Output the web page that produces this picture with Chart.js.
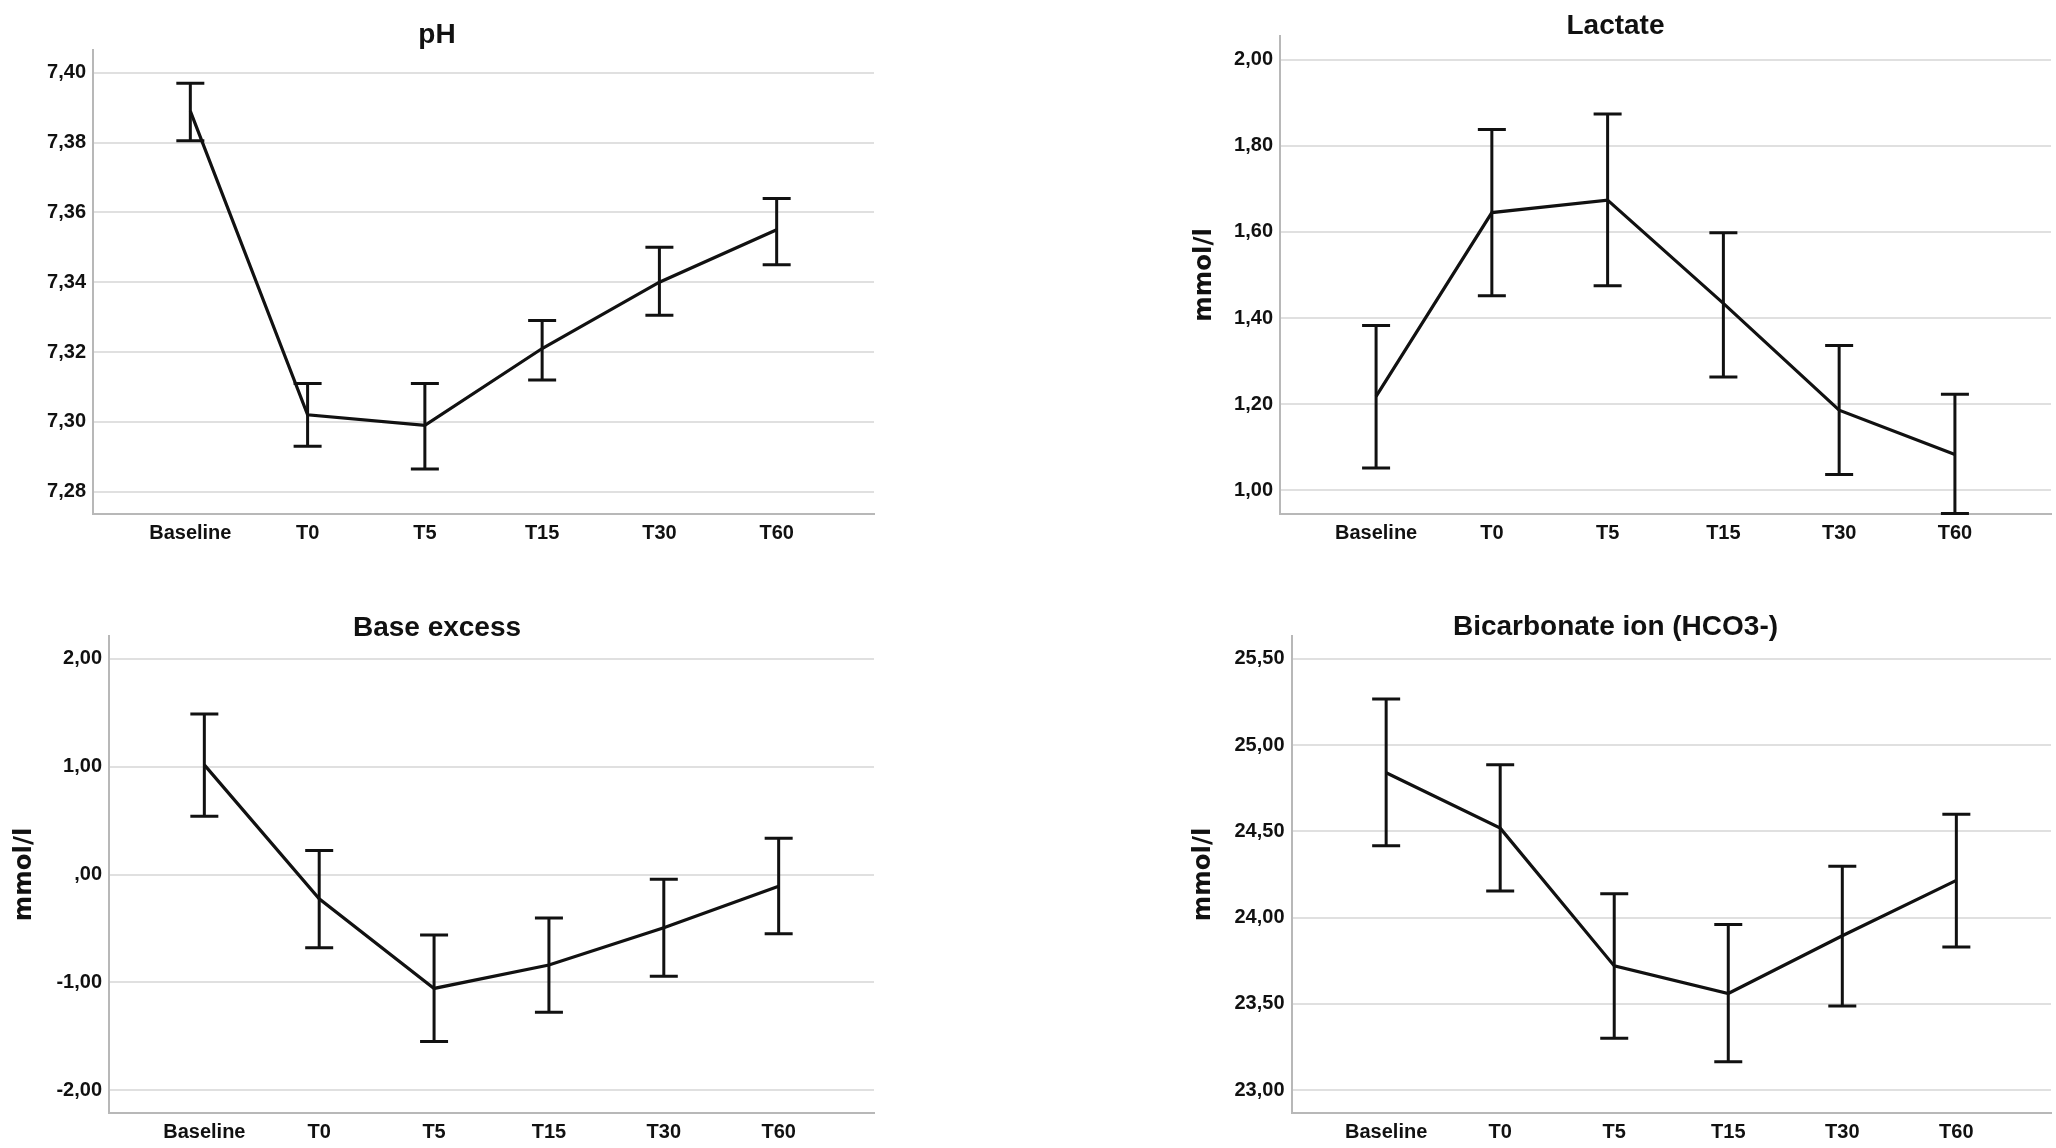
<!DOCTYPE html>
<html>
<head>
<meta charset="utf-8">
<script src="https://cdn.jsdelivr.net/npm/chart.js@4.4.1/dist/chart.umd.min.js"></script>
<style>
html,body{margin:0;padding:0;background:#ffffff;overflow:hidden;width:2056px;height:1148px;}
canvas{position:absolute;}
</style>
</head>
<body>
<canvas id="cPh" width="880" height="548" style="left:0px;top:0px"></canvas>
<canvas id="cLac" width="876" height="548" style="left:1180px;top:0px"></canvas>
<canvas id="cBe" width="880" height="557" style="left:0px;top:590px"></canvas>
<canvas id="cBic" width="876" height="557" style="left:1180px;top:590px"></canvas>
<script>
// ---- data ----
const categories = ['Baseline', 'T0', 'T5', 'T15', 'T30', 'T60'];

const phMean = [7.389, 7.302, 7.299, 7.321, 7.340, 7.355];
const phHigh = [7.397, 7.311, 7.311, 7.329, 7.350, 7.364];
const phLow  = [7.3805, 7.293, 7.2865, 7.312, 7.3305, 7.345];
const phTicks = [7.28, 7.30, 7.32, 7.34, 7.36, 7.38, 7.40];

const lacMean = [1.218, 1.645, 1.674, 1.434, 1.186, 1.083];
const lacHigh = [1.383, 1.838, 1.874, 1.598, 1.336, 1.223];
const lacLow  = [1.052, 1.452, 1.475, 1.263, 1.037, 0.946];
const lacTicks = [1.00, 1.20, 1.40, 1.60, 1.80, 2.00];

const beMean = [1.017, -0.225, -1.057, -0.840, -0.495, -0.108];
const beHigh = [1.490, 0.222, -0.562, -0.404, -0.044, 0.336];
const beLow  = [0.540, -0.680, -1.550, -1.278, -0.943, -0.550];
const beTicks = [-2, -1, 0, 1, 2];

const bicMean = [24.84, 24.519, 23.72, 23.56, 23.895, 24.216];
const bicHigh = [25.267, 24.887, 24.139, 23.96, 24.298, 24.60];
const bicLow  = [24.416, 24.155, 23.30, 23.164, 23.487, 23.83];
const bicTicks = [23.0, 23.5, 24.0, 24.5, 25.0, 25.5];

const titles = ['pH', 'Lactate', 'Base excess', 'Bicarbonate ion (HCO3-)'];
const unitLabel = 'mmol/l';

// ---- style ----
const FONT = "'Liberation Sans', Arial, Helvetica, sans-serif";
const TEXT = '#111111';
const GRID = '#e0e0e0';
const AXIS = '#b8b8b8';

function fmt(v) {
  let s = Number(v).toFixed(2).replace('.', ',');
  if (s.startsWith('0,')) s = s.slice(1);
  if (s.startsWith('-0,')) s = '-' + s.slice(2);
  return s;
}

function makeErrorBars(low, high) {
  return {
    id: 'errorBars',
    afterDatasetsDraw(chart) {
      const ctx = chart.ctx;
      const xs = chart.scales.x, ys = chart.scales.y;
      ctx.save();
      ctx.strokeStyle = TEXT;
      ctx.lineWidth = 3;
      ctx.lineCap = 'butt';
      const cap = 14;
      low.forEach((lo, i) => {
        const px = xs.getPixelForValue(i);
        const yl = ys.getPixelForValue(lo);
        const yh = ys.getPixelForValue(high[i]);
        ctx.beginPath();
        ctx.moveTo(px, yl); ctx.lineTo(px, yh);
        ctx.moveTo(px - cap, yl); ctx.lineTo(px + cap, yl);
        ctx.moveTo(px - cap, yh); ctx.lineTo(px + cap, yh);
        ctx.stroke();
      });
      ctx.restore();
    }
  };
}

function makeChart(id, p) {
  return new Chart(document.getElementById(id), {
    type: 'line',
    data: {
      datasets: [{
        data: p.mean.map((v, i) => ({ x: i, y: v })),
        borderColor: TEXT,
        borderWidth: 3.2,
        pointRadius: 0,
        tension: 0,
        fill: false
      }]
    },
    options: {
      responsive: false,
      animation: false,
      devicePixelRatio: 1,
      layout: { padding: { left: 0, right: p.padRight, top: 0, bottom: 0 } },
      plugins: {
        legend: { display: false },
        tooltip: { enabled: false },
        title: {
          display: true,
          text: p.title,
          color: TEXT,
          font: { family: FONT, size: 28, weight: 'bold', lineHeight: 0.5 },
          padding: { top: p.titleTop, bottom: p.titleBottom }
        }
      },
      scales: {
        x: {
          type: 'linear',
          min: -0.83,
          max: 5.83,
          bounds: 'data',
          grid: { display: false, drawTicks: false },
          border: { display: true, color: AXIS, width: 2 },
          afterBuildTicks: a => { a.ticks = categories.map((_, i) => ({ value: i })); },
          afterFit: a => { a.height = 34; },
          ticks: {
            padding: 7,
            color: TEXT,
            autoSkip: false,
            maxRotation: 0,
            font: { family: FONT, size: 20, weight: 'bold', lineHeight: 1.2 },
            callback: v => categories[v]
          }
        },
        y: {
          type: 'linear',
          min: p.min,
          max: p.max,
          bounds: 'data',
          grid: { color: GRID, lineWidth: 2, drawTicks: false },
          border: { display: true, color: AXIS, width: 2 },
          afterBuildTicks: a => { a.ticks = p.ticks.map(v => ({ value: v })); },
          afterFit: a => { a.width = p.yWidth; },
          ticks: {
            padding: 7,
            color: TEXT,
            font: { family: FONT, size: 20, weight: 'bold', lineHeight: 1.2 },
            callback: v => fmt(v)
          },
          title: p.yTitle ? {
            display: true,
            text: unitLabel,
            color: TEXT,
            font: { family: "'DejaVu Sans', Verdana, sans-serif", size: 24.5, weight: 'bold', lineHeight: 1.2 },
            padding: { top: p.yTitlePad, bottom: 0 }
          } : { display: false }
        }
      }
    },
    plugins: [makeErrorBars(p.low, p.high)]
  });
}

makeChart('cPh', {
  title: titles[0], mean: phMean, low: phLow, high: phHigh, ticks: phTicks,
  min: 7.2736, max: 7.4065, yWidth: 93, yTitle: false, padRight: 6,
  titleTop: 28, titleBottom: 8
});
makeChart('cLac', {
  title: titles[1], mean: lacMean, low: lacLow, high: lacHigh, ticks: lacTicks,
  min: 0.945, max: 2.055, yWidth: 100, yTitle: true, yTitlePad: 10.3, padRight: 5,
  titleTop: 19, titleBottom: 3
});
makeChart('cBe', {
  title: titles[2], mean: beMean, low: beLow, high: beHigh, ticks: beTicks,
  min: -2.213, max: 2.213, yWidth: 109, yTitle: true, yTitlePad: 10.3, padRight: 6,
  titleTop: 31.5, titleBottom: 0.5
});
makeChart('cBic', {
  title: titles[3], mean: bicMean, low: bicLow, high: bicHigh, ticks: bicTicks,
  min: 22.867, max: 25.633, yWidth: 111.5, yTitle: true, yTitlePad: 9.3, padRight: 5,
  titleTop: 30, titleBottom: 2
});
</script>
</body>
</html>
